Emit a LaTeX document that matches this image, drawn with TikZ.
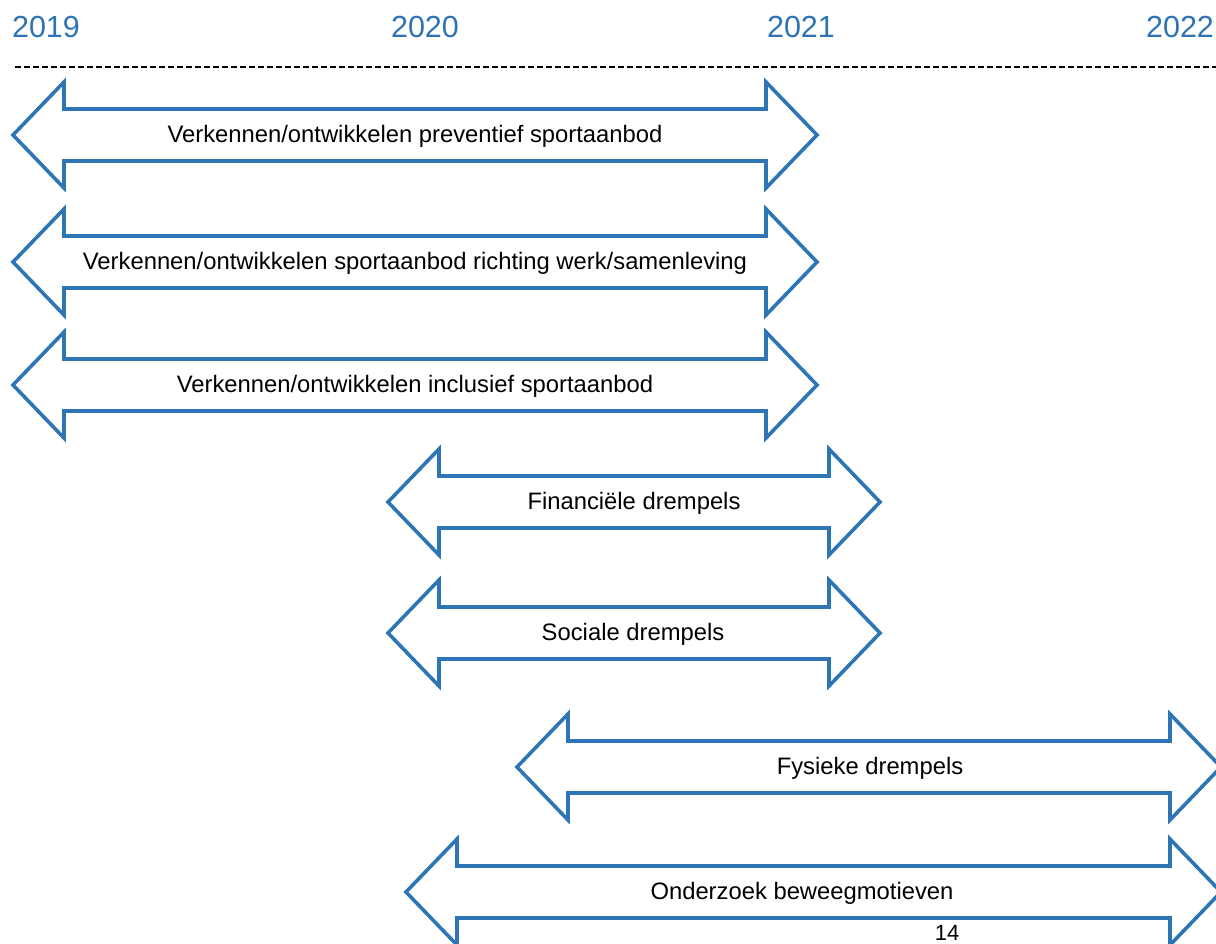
\documentclass[tikz,border=0pt]{standalone}
\usepackage{fontspec}
\setmainfont{Liberation Sans}
\definecolor{arrowblue}{HTML}{2E75B6}
\definecolor{yearblue}{HTML}{2E74B5}
\newcommand{\dblarrowpath}[3]{%
  \draw[arr] (#1,#3) -- ++(51,-53) -- ++(0,27) -- (#2-51,#3-26) -- ++(0,-27) -- (#2,#3)
    -- ++(-51,53) -- ++(0,-27) -- (#1+51,#3+26) -- ++(0,27) -- cycle;}
\tikzset{
  arr/.style={draw=arrowblue, line width=3.6pt, line join=miter, fill=white},
  lbl/.style={font=\fontsize{23.8}{28}\selectfont, text=black, inner sep=0pt},
  yr/.style={font=\fontsize{30.5}{36}\selectfont, text=yearblue, inner sep=0pt, anchor=base},
}
\begin{document}
\begin{tikzpicture}[x=1pt,y=-1pt]
\useasboundingbox (0,0) rectangle (1216,943);
\clip (0,0) rectangle (1216,943);
\node[yr] (y2019) at (46,37) {2019};
\node[yr] (y2020) at (425,37) {2020};
\node[yr] (y2021) at (801,37) {2021};
\node[yr] (y2022) at (1180,37) {2022};
\coordinate (dl) at (15,67);
\coordinate (dr) at (1216,67);
\draw[black, line width=1.8pt, dash pattern=on 5.5pt off 3.5pt] (dl) -- (dr);
\dblarrowpath{13}{817}{135}
\node[lbl] (a1) at (415,136) {Verkennen/ontwikkelen preventief sportaanbod};
\dblarrowpath{13}{817}{262}
\node[lbl] (a2) at (415,263) {Verkennen/ontwikkelen sportaanbod richting werk/samenleving};
\dblarrowpath{13}{817}{385}
\node[lbl] (a3) at (415,386) {Verkennen/ontwikkelen inclusief sportaanbod};
\dblarrowpath{388}{880}{502}
\node[lbl] (a4) at (634,503) {Financiële drempels};
\dblarrowpath{388}{880}{633}
\node[lbl] (a5) at (633,634) {Sociale drempels};
\dblarrowpath{517}{1221}{767}
\node[lbl] (a6) at (870,768) {Fysieke drempels};
\dblarrowpath{406}{1221}{892}
\node[lbl] (a7) at (802,893) {Onderzoek beweegmotieven};
\node[lbl, anchor=base, font=\fontsize{22}{26}\selectfont] (pg) at (947,940) {14};
\end{tikzpicture}
\end{document}
